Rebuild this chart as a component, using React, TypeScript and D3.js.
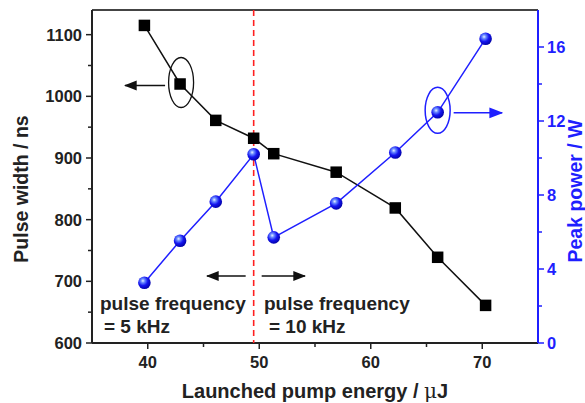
import React from "react";
import * as d3 from "d3";

// Launched pump energy (μJ) for each measurement
const energy = [39.7, 42.9, 46.1, 49.5, 51.3, 56.9, 62.2, 66.0, 70.3];
// Pulse width (ns), left axis
const pulseWidth = [1115, 1020, 961, 932, 907, 877, 819, 739, 661];
// Peak power (W), right axis
const peakPower = [3.26, 5.53, 7.64, 10.2, 5.71, 7.55, 10.3, 12.47, 16.45];

const xTicks = [40, 50, 60, 70];
const xMinor = [45, 55, 65];
const leftTicks = [600, 700, 800, 900, 1000, 1100];
const leftMinor = [650, 750, 850, 950, 1050];
const rightTicks = [0, 4, 8, 12, 16];
const rightMinor = [2, 6, 10, 14];

const boundaryEnergy = 49.5;

const W = 585;
const H = 403;
const m = { left: 92, right: 47, top: 10, bottom: 60 };
const BLUE = "#1f1fff";
const FONT = "'Liberation Sans', Arial, sans-serif";
const TICK_FS = 16.5;
const TITLE_FS = 19.5;

export default function App() {
  const x = d3.scaleLinear().domain([35, 75]).range([m.left, W - m.right]);
  const yL = d3.scaleLinear().domain([600, 1140]).range([H - m.bottom, m.top]);
  const yR = d3.scaleLinear().domain([0, 18]).range([H - m.bottom, m.top]);

  const x0 = x.range()[0];
  const x1 = x.range()[1];
  const yb = yL.range()[0];
  const yt = yL.range()[1];

  const blackLine = d3
    .line<number>()
    .x((_, i) => x(energy[i]))
    .y((d) => yL(d))(pulseWidth);
  const blueLine = d3
    .line<number>()
    .x((_, i) => x(energy[i]))
    .y((d) => yR(d))(peakPower);

  const sq = 11.5;
  const r = 6.3;

  // annotation anchors derived from data points
  const lx = x(energy[1]);
  const ly = yL(pulseWidth[1]);
  const rx = x(energy[7]);
  const ry = yR(peakPower[7]);
  const bx = x(boundaryEnergy);
  const arrowY = 276;

  return (
    <svg width={W} height={H} style={{ position: "absolute", left: 0, top: 0 }} fontFamily={FONT}>
      <defs>
        <radialGradient id="ball" cx="0.38" cy="0.35" r="0.7">
          <stop offset="0" stopColor="#e8f0ff" />
          <stop offset="0.22" stopColor="#6a8cff" />
          <stop offset="0.55" stopColor="#1515f0" />
          <stop offset="1" stopColor="#0000a0" />
        </radialGradient>
        <marker id="ahBlack" viewBox="0 0 10 10" refX="9" refY="5" markerWidth="13" markerHeight="13" markerUnits="userSpaceOnUse" orient="auto">
          <path d="M0,1.2 L10,5 L0,8.8 z" fill="#111" />
        </marker>
        <marker id="ahBlue" viewBox="0 0 10 10" refX="9" refY="5" markerWidth="14" markerHeight="14" markerUnits="userSpaceOnUse" orient="auto">
          <path d="M0,1.2 L10,5 L0,8.8 z" fill={BLUE} />
        </marker>
      </defs>
      <rect width={W} height={H} fill="#fff" />

      {/* frame */}
      <line x1={x0} x2={x1} y1={yt} y2={yt} stroke="#444" strokeWidth={2} />
      <line x1={x0} x2={x1} y1={yb} y2={yb} stroke="#222" strokeWidth={2} />
      <line x1={x0} x2={x0} y1={yt} y2={yb} stroke="#222" strokeWidth={2} />
      <line x1={x1} x2={x1} y1={yt} y2={yb} stroke={BLUE} strokeWidth={2} />

      {/* bottom axis */}
      {xTicks.map((t) => (
        <g key={"xt" + t}>
          <line x1={x(t)} x2={x(t)} y1={yb} y2={yb + 6} stroke="#222" strokeWidth={1.5} />
          <text x={x(t)} y={368} textAnchor="middle" fontSize={TICK_FS} fontWeight="bold" fill="#222">{t}</text>
        </g>
      ))}
      {xMinor.map((t) => (
        <line key={"xm" + t} x1={x(t)} x2={x(t)} y1={yb} y2={yb + 4} stroke="#222" strokeWidth={1.5} />
      ))}

      {/* left axis */}
      {leftTicks.map((t) => (
        <g key={"lt" + t}>
          <line x1={x0 - 6} x2={x0} y1={yL(t)} y2={yL(t)} stroke="#222" strokeWidth={1.5} />
          <text x={82} y={yL(t) + 6} textAnchor="end" fontSize={TICK_FS} fontWeight="bold" fill="#222">{t}</text>
        </g>
      ))}
      {leftMinor.map((t) => (
        <line key={"lm" + t} x1={x0 - 4} x2={x0} y1={yL(t)} y2={yL(t)} stroke="#222" strokeWidth={1.5} />
      ))}

      {/* right axis */}
      {rightTicks.map((t) => (
        <g key={"rt" + t}>
          <line x1={x1} x2={x1 + 6} y1={yR(t)} y2={yR(t)} stroke={BLUE} strokeWidth={1.5} />
          <text x={547} y={yR(t) + 6} textAnchor="start" fontSize={TICK_FS} fontWeight="bold" fill={BLUE}>{t}</text>
        </g>
      ))}
      {rightMinor.map((t) => (
        <line key={"rm" + t} x1={x1} x2={x1 + 4} y1={yR(t)} y2={yR(t)} stroke={BLUE} strokeWidth={1.5} />
      ))}

      {/* axis titles */}
      <text x={315} y={398} textAnchor="middle" fontSize={20} fontWeight="bold" fill="#222">
        Launched pump energy / <tspan fontFamily="'DejaVu Serif', serif" fontWeight="normal">μ</tspan>J
      </text>
      <text transform={`translate(28,189) rotate(-90)`} textAnchor="middle" fontSize={TITLE_FS} fontWeight="bold" fill="#222">
        Pulse width / ns
      </text>
      <text transform={`translate(582,191) rotate(-90)`} textAnchor="middle" fontSize={TITLE_FS} fontWeight="bold" fill={BLUE}>
        Peak power / W
      </text>

      {/* regime boundary */}
      <line x1={bx} x2={bx} y1={yt} y2={yb} stroke="#ff2020" strokeWidth={1.6} strokeDasharray="6,4" />

      {/* series */}
      <path d={blackLine ?? ""} fill="none" stroke="#111" strokeWidth={1.5} />
      <path d={blueLine ?? ""} fill="none" stroke={BLUE} strokeWidth={1.5} />
      {pulseWidth.map((v, i) => (
        <rect key={"s" + i} x={x(energy[i]) - sq / 2} y={yL(v) - sq / 2} width={sq} height={sq} fill="#000" />
      ))}
      {peakPower.map((v, i) => (
        <circle key={"c" + i} cx={x(energy[i])} cy={yR(v)} r={r} fill="url(#ball)" />
      ))}

      {/* series indicators */}
      <ellipse cx={lx + 1} cy={ly - 1.5} rx={12.5} ry={25} fill="none" stroke="#111" strokeWidth={1.3} />
      <line x1={lx - 15} x2={125} y1={ly + 1.5} y2={ly + 1.5} stroke="#111" strokeWidth={1.5} markerEnd="url(#ahBlack)" />
      <ellipse cx={rx} cy={ry - 2} rx={12.5} ry={23} fill="none" stroke={BLUE} strokeWidth={1.5} />
      <line x1={rx + 16} x2={502} y1={ry + 0.5} y2={ry + 0.5} stroke={BLUE} strokeWidth={1.5} markerEnd="url(#ahBlue)" />

      {/* regime labels */}
      <line x1={bx - 8} x2={207} y1={arrowY} y2={arrowY} stroke="#111" strokeWidth={1.3} markerEnd="url(#ahBlack)" />
      <line x1={bx + 8} x2={305} y1={arrowY} y2={arrowY} stroke="#111" strokeWidth={1.3} markerEnd="url(#ahBlack)" />
      <text x={100} y={310} fontSize={19} fontWeight="bold" fill="#222">pulse frequency</text>
      <text x={104} y={333} fontSize={19} fontWeight="bold" fill="#222">= 5 kHz</text>
      <text x={264} y={310} fontSize={19} fontWeight="bold" fill="#222">pulse frequency</text>
      <text x={269} y={333} fontSize={19} fontWeight="bold" fill="#222">= 10 kHz</text>
    </svg>
  );
}
